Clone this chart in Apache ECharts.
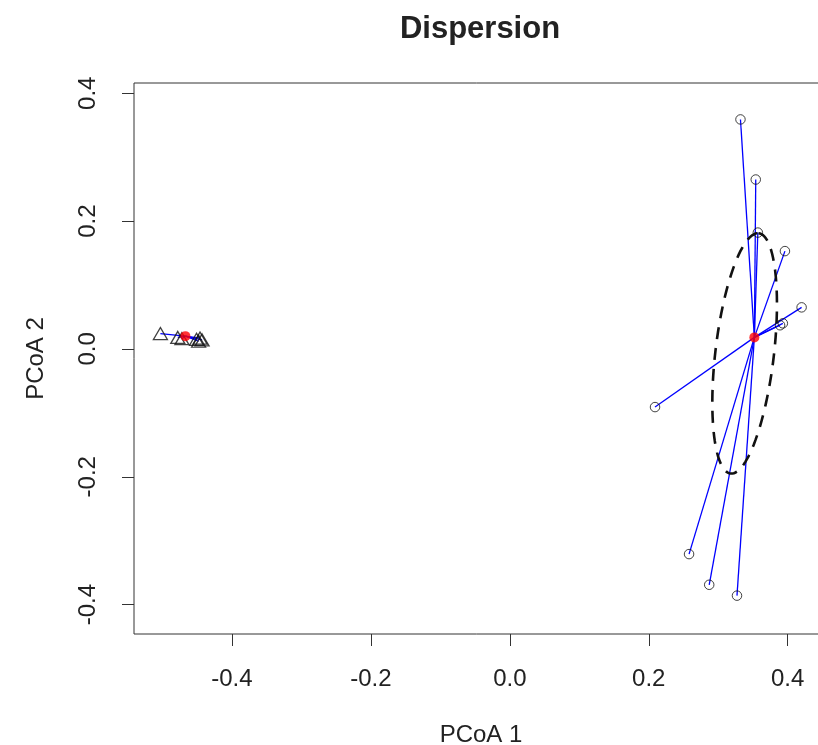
<!DOCTYPE html>
<html>
<head>
<meta charset="utf-8">
<script src="https://cdn.jsdelivr.net/npm/echarts@6/dist/echarts.min.js"></script>
<style>
  html, body { margin: 0; padding: 0; background: #fff; }
  #main { width: 818px; height: 745px; }
</style>
</head>
<body>
<div id="main"></div>
<script>
// group 1 (triangles) and group 2 (circles), PCoA 1 / PCoA 2
var group1X = [-0.503, -0.478, -0.472, -0.451, -0.446, -0.443, -0.448];
var group1Y = [0.024, 0.018, 0.016, 0.015, 0.017, 0.014, 0.012];
var group2X = [0.332, 0.354, 0.357, 0.396, 0.420, 0.389, 0.393, 0.209, 0.258, 0.287, 0.327];
var group2Y = [0.359, 0.265, 0.182, 0.153, 0.065, 0.037, 0.040, -0.091, -0.321, -0.369, -0.386];
var centroid1 = [-0.467, 0.020];
var centroid2 = [0.352, 0.018];
// ellipse of group 2: centre and two semi-axis vectors (data units)
var ellipseCenter = [0.338, -0.007];
var ellipseAxisA = [0.020, 0.188];
var ellipseAxisB = [0.042, -0.004];
var xTicks = [-0.4, -0.2, 0.0, 0.2, 0.4];
var yTicks = [-0.4, -0.2, 0.0, 0.2, 0.4];

var chart = echarts.init(document.getElementById('main'), null, {renderer: 'canvas'});

function pairs(xs, ys) {
    var out = [];
    for (var i = 0; i < xs.length; i++) out.push([xs[i], ys[i]]);
    return out;
}
function spokes(c, xs, ys) {
    var out = [];
    for (var i = 0; i < xs.length; i++) out.push({coords: [c, [xs[i], ys[i]]]});
    return out;
}

var labelFont = {fontFamily: 'Liberation Sans, Arial, sans-serif', fontSize: 24, color: '#222'};

chart.setOption({
    animation: false,
    title: {
        text: 'Dispersion',
        left: 475,
        top: 9,
        textAlign: 'center',
        textStyle: {fontFamily: 'Liberation Sans, Arial, sans-serif', fontSize: 31, fontWeight: 'bold', color: '#222'}
    },
    grid: {left: 134, top: 83, width: 694, height: 551, outerBoundsMode: 'none', containLabel: false,
           show: true, borderColor: '#333', borderWidth: 1},
    xAxis: {
        type: 'value', min: -0.541, max: 0.458,
        name: 'PCoA 1', nameLocation: 'middle', nameGap: 89,
        nameTextStyle: labelFont,
        axisLine: {show: false, onZero: false},
        splitLine: {show: false},
        axisTick: {show: true, customValues: xTicks, length: 12, lineStyle: {color: '#333'}},
        axisLabel: Object.assign({customValues: xTicks, margin: 33, formatter: function (v) { return v.toFixed(1); }}, labelFont)
    },
    yAxis: {
        type: 'value', min: -0.446, max: 0.416,
        name: 'PCoA 2', nameLocation: 'middle', nameGap: 86,
        nameTextStyle: labelFont,
        axisLine: {show: false, onZero: false},
        splitLine: {show: false},
        axisTick: {show: true, customValues: yTicks, length: 12, lineStyle: {color: '#333'}},
        axisLabel: Object.assign({customValues: yTicks, margin: 34, rotate: 90, formatter: function (v) { return v.toFixed(1); }}, labelFont)
    },
    series: [
        {
            type: 'lines', coordinateSystem: 'cartesian2d', silent: true,
            lineStyle: {color: '#0000ff', width: 1.3, opacity: 1},
            data: spokes(centroid1, group1X, group1Y).concat(spokes(centroid2, group2X, group2Y))
        },
        {
            type: 'custom',
            data: [ellipseCenter],
            renderItem: function (params, api) {
                var pts = [];
                for (var i = 0; i <= 120; i++) {
                    var t = i / 120 * Math.PI * 2;
                    var c = Math.cos(t), s = Math.sin(t);
                    pts.push(api.coord([
                        ellipseCenter[0] + ellipseAxisA[0] * c + ellipseAxisB[0] * s,
                        ellipseCenter[1] + ellipseAxisA[1] * c + ellipseAxisB[1] * s
                    ]));
                }
                return {
                    type: 'polyline',
                    shape: {points: pts},
                    style: {fill: null, stroke: '#111', lineWidth: 2.6, lineDash: [12, 9]}
                };
            },
            z: 3
        },
        {
            type: 'scatter', symbol: 'circle', symbolSize: 9.5,
            itemStyle: {color: 'transparent', borderColor: '#111', borderWidth: 1},
            data: pairs(group2X, group2Y), z: 4
        },
        {
            type: 'scatter', symbol: 'triangle', symbolSize: [14, 12],
            itemStyle: {color: 'transparent', borderColor: '#111', borderWidth: 1.3},
            data: pairs(group1X, group1Y), z: 4
        },
        {
            type: 'scatter', symbol: 'circle', symbolSize: 10,
            itemStyle: {color: '#ff0000'},
            data: [centroid1, centroid2], z: 5
        }
    ]
});
</script>
</body>
</html>
